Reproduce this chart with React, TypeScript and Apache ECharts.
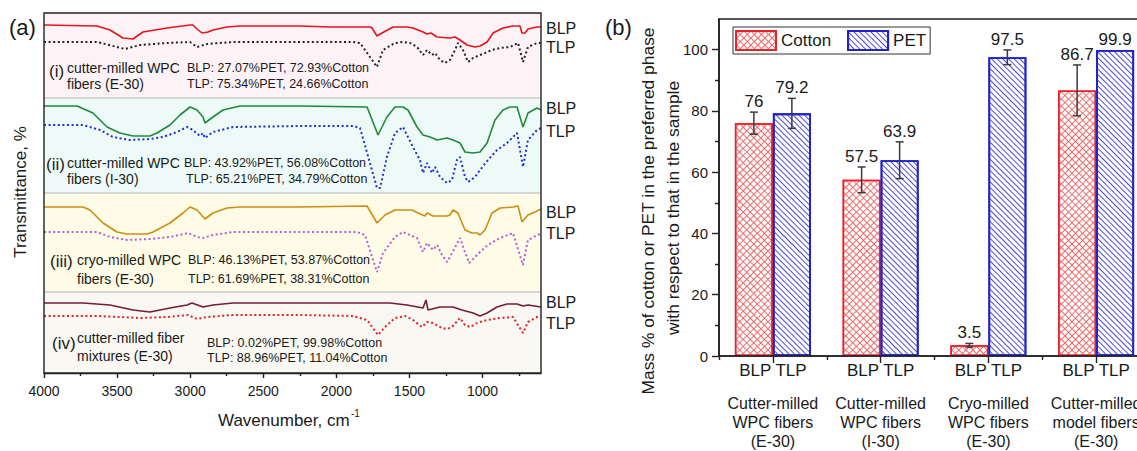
import React, { useEffect, useRef } from 'react';
import * as echarts from 'echarts';

const FONT = '"Liberation Sans", Arial, Helvetica, sans-serif';

// ---------- Panel (a): FTIR spectra, [wavenumber (cm-1), offset transmittance] ----------
const spec1BLP = [[4000,348],[3637,347],[3548,343],[3460,335],[3391,334],[3323,341],[3159,345],[3001,348],[2981,348],[2953,344],[2919,340],[2878,341],[2844,343],[2748,346],[2659,347],[2249,347],[2043,346],[1770,346],[1756,345],[1722,337],[1688,340],[1612,346],[1517,346],[1476,345],[1407,341],[1380,339],[1353,340],[1311,336],[1223,335],[1188,336],[1154,333],[1106,328],[1051,326],[1017,327],[969,331],[928,340],[860,345],[792,347],[744,347],[730,340],[709,340],[689,344],[627,346],[600,346]];
const spec1TLP = [[4000,331],[3637,331],[3446,324],[3343,328],[3159,330],[3001,331],[2953,326],[2885,329],[2707,331],[2249,331],[1886,331],[1838,330],[1722,306],[1681,323],[1599,330],[1544,331],[1496,330],[1448,326],[1407,318],[1380,323],[1346,318],[1325,320],[1291,313],[1257,310],[1223,313],[1188,323],[1168,330],[1134,323],[1099,311],[1065,315],[1017,318],[983,320],[935,323],[880,325],[812,326],[757,330],[723,311],[689,326],[627,330],[600,330]];
const spec2BLP = [[4000,267],[3774,267],[3665,260],[3569,246],[3480,240],[3391,237],[3275,237],[3227,240],[3138,248],[3070,258],[3001,266],[2953,263],[2912,256],[2899,250],[2844,256],[2775,263],[2659,267],[2249,267],[1790,266],[1715,238],[1654,256],[1599,266],[1544,266],[1510,263],[1448,246],[1407,238],[1359,236],[1311,233],[1243,235],[1202,233],[1154,230],[1120,221],[1065,220],[1017,221],[969,230],[915,253],[860,263],[812,266],[764,266],[723,246],[689,260],[627,265],[600,263]];
const spec2TLP = [[4000,248],[3733,248],[3617,243],[3528,236],[3412,233],[3275,234],[3186,236],[3090,241],[3022,246],[2981,243],[2933,237],[2912,240],[2899,235],[2844,241],[2707,246],[2249,247],[1886,247],[1838,245],[1722,185],[1701,185],[1654,216],[1599,240],[1544,246],[1510,236],[1476,226],[1428,213],[1407,200],[1380,210],[1346,200],[1325,206],[1291,196],[1243,190],[1209,193],[1175,213],[1154,216],[1120,196],[1099,191],[1051,196],[1017,203],[963,213],[901,223],[833,230],[764,240],[723,206],[689,233],[627,243],[600,245]];
const spec3BLP = [[4000,166],[3733,166],[3685,163],[3596,150],[3501,141],[3432,139],[3295,139],[3254,141],[3138,150],[3049,160],[3001,166],[2953,163],[2899,154],[2844,160],[2748,165],[2659,166],[2249,166],[1790,167],[1722,150],[1667,158],[1599,163],[1483,163],[1441,160],[1394,157],[1380,160],[1339,157],[1243,157],[1223,158],[1202,163],[1168,160],[1120,143],[1072,140],[1038,140],[1017,138],[983,143],[935,160],[880,165],[792,166],[757,167],[730,151],[689,158],[627,162],[600,164]];
const spec3TLP = [[4000,141],[3637,141],[3548,136],[3432,133],[3275,134],[3138,136],[3015,140],[2953,136],[2912,135],[2844,138],[2707,141],[2249,141],[1859,141],[1804,138],[1722,101],[1681,120],[1599,136],[1544,141],[1496,138],[1448,135],[1407,121],[1380,130],[1339,123],[1311,128],[1277,118],[1243,111],[1223,116],[1154,135],[1120,121],[1092,110],[1051,116],[1017,121],[963,128],[880,135],[792,140],[723,108],[689,133],[627,138],[600,139]];
const spec4BLP = [[4000,70],[3733,70],[3548,68],[3391,63],[3275,61],[3138,65],[3022,68],[2988,70],[2912,66],[2844,68],[2707,70],[2249,70],[1633,70],[1517,68],[1407,65],[1387,73],[1373,63],[1291,66],[1202,66],[1141,63],[1065,60],[1017,57],[969,60],[901,66],[833,69],[764,69],[723,67],[689,68],[600,66]];
const spec4TLP = [[4000,57],[3637,57],[3480,56],[3343,55],[3159,56],[3015,58],[2953,54],[2885,56],[2707,58],[2249,58],[1886,57],[1790,53],[1715,38],[1667,46],[1599,55],[1530,57],[1476,53],[1414,46],[1380,51],[1339,50],[1277,45],[1243,44],[1209,46],[1154,55],[1120,48],[1086,46],[1038,50],[969,53],[880,55],[792,56],[723,40],[689,51],[627,56],[600,56]];

const xTickValues = [4000, 3500, 3000, 2500, 2000, 1500, 1000];
const xMinorTickValues = [3750, 3250, 2750, 2250, 1750, 1250, 750];

const subPanelNames = [
  ['cutter-milled WPC', 'fibers (E-30)'],
  ['cutter-milled WPC', 'fibers (I-30)'],
  ['cryo-milled WPC', 'fibers (E-30)'],
  ['cutter-milled fiber', 'mixtures (E-30)'],
];
const subPanelTags = ['(i)', '(ii)', '(iii)', '(iv)'];
const subPanelBLP = [
  'BLP: 27.07%PET, 72.93%Cotton',
  'BLP: 43.92%PET, 56.08%Cotton',
  'BLP: 46.13%PET, 53.87%Cotton',
  'BLP: 0.02%PET, 99.98%Cotton',
];
const subPanelTLP = [
  'TLP: 75.34%PET, 24.66%Cotton',
  'TLP: 65.21%PET, 34.79%Cotton',
  'TLP: 61.69%PET, 38.31%Cotton',
  'TLP: 88.96%PET, 11.04%Cotton',
];

// ---------- Panel (b): bars ----------
const categories = [
  'Cutter-milled\nWPC fibers\n(E-30)',
  'Cutter-milled\nWPC fibers\n(I-30)',
  'Cryo-milled\nWPC fibers\n(E-30)',
  'Cutter-milled\nmodel fibers\n(E-30)',
];
const cottonValues = [76, 57.5, 3.5, 86.7];
const petValues = [79.2, 63.9, 97.5, 99.9];
const cottonErrors = [3.6, 4.2, 0.6, 8.3];
const petErrors = [4.9, 6.0, 2.4, 0];
const yTickValues = [0, 20, 40, 60, 80, 100];
const yMinorTickValues = [10, 30, 50, 70, 90];

const BAR_W = 38;
const INK = '#1a1a1a';

function buildOption() {
  const spectra = [
    { data: spec1BLP, color: '#e8141c', dotted: false },
    { data: spec1TLP, color: '#222222', dotted: true },
    { data: spec2BLP, color: '#1f8a3c', dotted: false },
    { data: spec2TLP, color: '#1f2fd0', dotted: true },
    { data: spec3BLP, color: '#d08e10', dotted: false },
    { data: spec3TLP, color: '#b060dc', dotted: true },
    { data: spec4BLP, color: '#7a1c34', dotted: false },
    { data: spec4TLP, color: '#e62020', dotted: true },
  ];

  const bands = [
    { from: 275.5, to: 360, color: '#fdf3f7' },
    { from: 180, to: 275.5, color: '#eefaf8' },
    { from: 81, to: 180, color: '#fefbe6' },
    { from: 0, to: 81, color: '#f9f8f3' },
  ];

  const lineSeries: any[] = spectra.map((s, i) => ({
    type: 'line',
    xAxisIndex: 0,
    yAxisIndex: 0,
    data: s.data,
    showSymbol: false,
    symbol: 'none',
    silent: true,
    z: 3,
    lineStyle: {
      color: s.color,
      width: s.dotted ? 2 : 1.6,
      type: s.dotted ? [2, 2.6] : 'solid',
      cap: 'butt',
    },
    ...(i === 0
      ? {
          markArea: {
            silent: true,
            data: bands.map((b) => [
              { xAxis: 4000, yAxis: b.from, itemStyle: { color: b.color } },
              { xAxis: 600, yAxis: b.to },
            ]),
          },
          markLine: {
            silent: true,
            symbol: 'none',
            label: { show: false },
            lineStyle: { color: '#d6d6d6', width: 2, type: 'solid' },
            data: [{ yAxis: 275.5 }, { yAxis: 180 }, { yAxis: 81 }],
          },
        }
      : {}),
  }));

  const errSeries = (values: number[], errors: number[], offset: number) => ({
    type: 'custom',
    xAxisIndex: 2,
    yAxisIndex: 1,
    z: 6,
    silent: true,
    data: values.map((v, i) => [i, v, errors[i]]),
    renderItem: (params: any, api: any) => {
      const i = api.value(0);
      const v = api.value(1);
      const e = api.value(2);
      const base = api.coord([i, v]);
      const x = base[0] + offset;
      const top = api.coord([i, v + e])[1];
      const bot = api.coord([i, v - e])[1];
      const st = { stroke: '#3a3a3a', lineWidth: 1.5 };
      const children: any[] = [];
      if (e > 0) {
        children.push({ type: 'line', shape: { x1: x, y1: top, x2: x, y2: bot }, style: st });
        children.push({ type: 'line', shape: { x1: x - 4, y1: top, x2: x + 4, y2: top }, style: st });
        children.push({ type: 'line', shape: { x1: x - 4, y1: bot, x2: x + 4, y2: bot }, style: st });
      }
      children.push({
        type: 'text',
        x,
        y: top - 2,
        style: {
          text: String(v),
          fontSize: 17,
          fontFamily: FONT,
          fill: INK,
          align: 'center',
          verticalAlign: 'bottom',
          textAlign: 'center',
          textVerticalAlign: 'bottom',
        },
      });
      return { type: 'group', children };
    },
  });

  const txt = (text: string, x: number, y: number, fontSize: number, extra: any = {}) => ({
    type: 'text',
    x,
    y,
    silent: true,
    z: 20,
    ...extra,
    style: {
      text,
      fontSize,
      fontFamily: FONT,
      fill: INK,
      textAlign: extra.align || 'left',
      textVerticalAlign: 'middle',
      align: extra.align || 'left',
      verticalAlign: 'middle',
    },
  });

  const tagPos = [
    { tagX: 49, y1: 68, y2: 84, tagY: 71, nameX: 67, infoX1: 187, infoX2: 187 },
    { tagX: 46, y1: 163, y2: 179, tagY: 164, nameX: 67, infoX1: 184, infoX2: 186 },
    { tagX: 50, y1: 260, y2: 279, tagY: 261, nameX: 77, infoX1: 188, infoX2: 188 },
    { tagX: 52, y1: 338, y2: 356, tagY: 343, nameX: 77, infoX1: 207, infoX2: 207 },
  ];
  const sideY = [
    [28, 47],
    [108, 131],
    [212, 233],
    [302, 323],
  ];

  const graphics: any[] = [
    txt('(a)', 9, 27, 22),
    txt('(b)', 605, 27, 22),
    txt('Transmittance, %', 20, 192, 17, { rotation: Math.PI / 2, align: 'center' }),
    txt('Wavenumber, cm', 218, 420, 17),
    txt('-1', 351, 413, 10),
    txt('Mass % of cotton or PET in the preferred phase', 648, 211, 17.4, { rotation: Math.PI / 2, align: 'center' }),
    txt('with respect to that in the sample', 673, 208, 17.4, { rotation: Math.PI / 2, align: 'center' }),
  ];
  tagPos.forEach((p, k) => {
    graphics.push(txt(subPanelTags[k], p.tagX, p.tagY, 17));
    graphics.push(txt(subPanelNames[k][0], p.nameX, p.y1, 14));
    graphics.push(txt(subPanelNames[k][1], p.nameX, p.y2, 14));
    graphics.push(txt(subPanelBLP[k], p.infoX1, p.y1 + (k === 3 ? 5 : 0), 12.5));
    graphics.push(txt(subPanelTLP[k], p.infoX2, p.y2 + (k === 3 ? 2 : 0), 12.5));
    graphics.push(txt('BLP', 546, sideY[k][0], 16));
    graphics.push(txt('TLP', 546, sideY[k][1], 16));
  });

  const axisInk = { color: '#222', width: 1.4 };

  return {
    animation: false,
    backgroundColor: '#ffffff',
    textStyle: { fontFamily: FONT },
    grid: [
      { left: 44, top: 13, width: 497, height: 360, show: true, borderColor: '#222', borderWidth: 1.4, backgroundColor: 'transparent', z: 10 },
      { left: 719, top: 19, width: 431, height: 339, show: true, borderColor: '#222', borderWidth: 1.6, backgroundColor: 'transparent', z: 10 },
    ],
    legend: {
      data: ['Cotton', 'PET'],
      left: 733,
      top: 27,
      itemWidth: 40,
      itemHeight: 19,
      itemGap: 16,
      padding: [3, 4, 3, 2],
      borderColor: '#333',
      borderWidth: 1,
      icon: 'rect',
      selectedMode: false,
      textStyle: { fontSize: 17, fontFamily: FONT, color: INK },
    },
    xAxis: [
      {
        type: 'value', gridIndex: 0, position: 'bottom', offset: 0, inverse: true, min: 600, max: 4000,
        axisLine: { show: true, lineStyle: axisInk },
        axisTick: { show: true, length: 5, lineStyle: axisInk, customValues: xTickValues },
        axisLabel: { show: true, customValues: xTickValues, formatter: (v: number) => String(v), fontSize: 14, color: INK, margin: 11, fontFamily: FONT },
        splitLine: { show: false },
      },
      {
        type: 'value', gridIndex: 0, position: 'bottom', offset: 0, inverse: true, min: 600, max: 4000,
        axisLine: { show: false },
        axisTick: { show: true, length: 3, lineStyle: axisInk, customValues: xMinorTickValues },
        axisLabel: { show: false },
        splitLine: { show: false },
      },
      {
        type: 'category', gridIndex: 1, position: 'bottom', offset: 0, data: categories,
        axisLine: { show: true, lineStyle: { color: '#222', width: 1.6 } },
        axisTick: { show: true, alignWithLabel: true, length: 7, lineStyle: { color: '#222', width: 1.4 } },
        axisLabel: { interval: 0, formatter: () => 'BLP TLP', fontSize: 17, lineHeight: 17, margin: 6, color: INK, fontFamily: FONT },
        splitLine: { show: false },
      },
      {
        type: 'category', gridIndex: 1, position: 'bottom', offset: 0, data: categories,
        axisLine: { show: false }, axisTick: { show: false },
        axisLabel: { interval: 0, fontSize: 16, lineHeight: 19, margin: 38, color: INK, fontFamily: FONT },
        splitLine: { show: false },
      },
      {
        type: 'category', gridIndex: 1, position: 'bottom', offset: 0, data: categories,
        axisLine: { show: false },
        axisTick: { show: true, length: 4, interval: 0, lineStyle: { color: '#222', width: 1.4 } },
        axisLabel: { show: false },
        splitLine: { show: false },
      },
    ],
    yAxis: [
      { type: 'value', gridIndex: 0, min: 0, max: 360, show: false },
      {
        type: 'value', gridIndex: 1, position: 'left', offset: 0, min: 0, max: 110,
        axisLine: { show: true, lineStyle: { color: '#222', width: 1.6 } },
        axisTick: { show: true, length: 7, customValues: yTickValues, lineStyle: { color: '#222', width: 1.4 } },
        axisLabel: { show: true, customValues: yTickValues, fontSize: 15, margin: 11, color: INK, fontFamily: FONT },
        splitLine: { show: false },
      },
      {
        type: 'value', gridIndex: 1, position: 'left', offset: 0, min: 0, max: 110,
        axisLine: { show: false },
        axisTick: { show: true, length: 4, customValues: yMinorTickValues, lineStyle: { color: '#222', width: 1.4 } },
        axisLabel: { show: false },
        splitLine: { show: false },
      },
    ],
    series: [
      ...lineSeries,
      {
        name: 'Cotton', type: 'bar', xAxisIndex: 2, yAxisIndex: 1, data: cottonValues,
        barWidth: BAR_W, barGap: '0%', z: 2, silent: true,
        itemStyle: {
          color: '#ffffff', borderColor: '#e8202a', borderWidth: 1.5,
          decal: {
            symbol: 'rect', symbolSize: 1, color: '#f06a6a',
            dashArrayX: [[5, 0], [1, 4], [1, 4], [1, 4], [1, 4]],
            dashArrayY: [1, 0],
            rotation: Math.PI / 4,
          },
        },
      },
      {
        name: 'PET', type: 'bar', xAxisIndex: 2, yAxisIndex: 1, data: petValues,
        barWidth: BAR_W, barGap: '0%', z: 2, silent: true,
        itemStyle: {
          color: '#ffffff', borderColor: '#2222c8', borderWidth: 1.8,
          decal: {
            symbol: 'rect', symbolSize: 1, color: '#4c4cd8',
            dashArrayX: [1, 0],
            dashArrayY: [1, 3],
            rotation: Math.PI / 4,
          },
        },
      },
      errSeries(cottonValues, cottonErrors, -BAR_W / 2),
      errSeries(petValues, petErrors, BAR_W / 2),
    ],
    graphic: graphics,
  };
}

export default function App() {
  const ref = useRef<HTMLDivElement>(null);
  useEffect(() => {
    if (!ref.current) return;
    const chart = echarts.init(ref.current, undefined, { renderer: 'svg' });
    chart.setOption(buildOption() as any);
    return () => {
      chart.dispose();
    };
  }, []);
  return (
    <div
      style={{ position: 'absolute', left: 0, top: 0, width: 1137, height: 451, overflow: 'hidden', background: '#fff' }}
    >
      <div ref={ref} style={{ width: 1170, height: 451 }} />
    </div>
  );
}
